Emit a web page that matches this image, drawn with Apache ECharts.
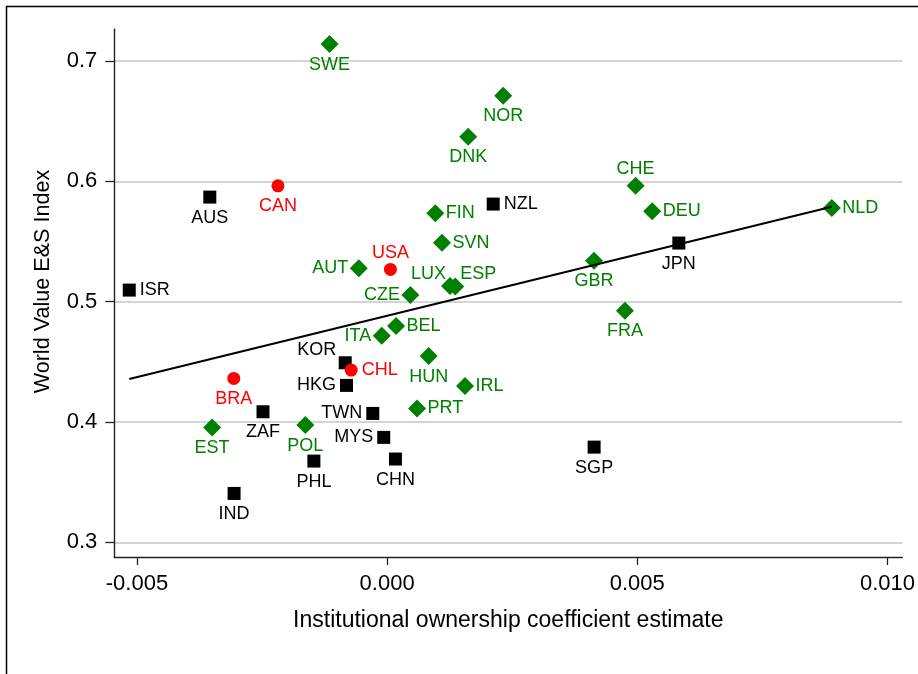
<!DOCTYPE html>
<html>
<head>
<meta charset="utf-8">
<script src="https://cdn.jsdelivr.net/npm/echarts@6/dist/echarts.min.js"></script>
<style>
html,body{margin:0;padding:0;background:#fff;}
#chart{width:918px;height:674px;}
</style>
</head>
<body>
<div id="chart"></div>
<script>
// ---- Data ----
const blackCountries = ['AUS','NZL','ISR','JPN','KOR','HKG','ZAF','TWN','MYS','PHL','CHN','IND','SGP'];
const blackX = [-0.003544, 0.00212, -0.005154, 0.00583, -0.000838, -0.000812, -0.002481, -0.000287, -0.000068, -0.001464, 0.000166, -0.003059, 0.004137];
const blackY = [0.5869, 0.5811, 0.5096, 0.5487, 0.4492, 0.4304, 0.4085, 0.4071, 0.3872, 0.3675, 0.3692, 0.3406, 0.3791];

const redCountries = ['CAN','USA','CHL','BRA'];
const redX = [-0.002182, 0.000066, -0.000718, -0.003065];
const redY = [0.5963, 0.5268, 0.4431, 0.4362];

const greenCountries = ['SWE','NOR','DNK','CHE','DEU','NLD','FIN','SVN','AUT','LUX','ESP','CZE','GBR','FRA','BEL','ITA','HUN','IRL','PRT','EST','POL'];
const greenX = [-0.001151, 0.00232, 0.00162, 0.004966, 0.005297, 0.008887, 0.000963, 0.001097, -0.000566, 0.001256, 0.001362, 0.000465, 0.004135, 0.004753, 0.000179, -0.000108, 0.00083, 0.001556, 0.000598, -0.003498, -0.001635];
const greenY = [0.7141, 0.6712, 0.6371, 0.5963, 0.5751, 0.5778, 0.5734, 0.5490, 0.5277, 0.5130, 0.5125, 0.5055, 0.5340, 0.4924, 0.4797, 0.4717, 0.4548, 0.4298, 0.4113, 0.3955, 0.3974];

const fitX = [-0.005154, 0.008887];
const fitY = [0.4357, 0.5789];

const xTicks = [-0.005, 0, 0.005, 0.010];
const xTickLabels = ['-0.005', '0.000', '0.005', '0.010'];
const yTicks = [0.3, 0.4, 0.5, 0.6, 0.7];
const yTickLabels = ['0.3', '0.4', '0.5', '0.6', '0.7'];

const xTitle = 'Institutional ownership coefficient estimate';
const yTitle = 'World Value E&S Index';

// ---- Label placement (style) ----
const placement = {
  AUS:'b', NZL:'r', ISR:'r', JPN:'b', KOR:'ul', HKG:'l', ZAF:'b', TWN:'l', MYS:'l', PHL:'b', CHN:'b', IND:'b', SGP:'b',
  CAN:'b', USA:'t', CHL:'r', BRA:'b',
  SWE:'b', NOR:'b', DNK:'b', CHE:'t', DEU:'r', NLD:'r', FIN:'r', SVN:'r', AUT:'l', LUX:'lux', ESP:'esp', CZE:'l',
  GBR:'b', FRA:'b', BEL:'r', ITA:'l', HUN:'b', IRL:'r', PRT:'r', EST:'b', POL:'b'
};
const placeStyle = {
  b:  {align:'center', offset:[0, 20.5]},
  t:  {align:'center', offset:[0, -16.5]},
  r:  {align:'left',   offset:[10.5, 0]},
  l:  {align:'right',  offset:[-10.5, 0]},
  ul: {align:'right',  offset:[-9, -12.7]},
  lux:{align:'right',  offset:[-4, -11.5]},
  esp:{align:'left',   offset:[5, -12.4]}
};

const FONT = '"Liberation Sans", Arial, Helvetica, sans-serif';

function buildData(names, xs, ys, color) {
  return names.map((n, i) => {
    const p = placeStyle[placement[n]];
    return {
      name: n,
      value: [xs[i], ys[i]],
      label: {
        show: true,
        formatter: n,
        position: 'inside',
        align: p.align,
        verticalAlign: 'middle',
        offset: p.offset,
        color: color,
        opacity: 1,
        fontSize: 18,
        fontFamily: FONT
      }
    };
  });
}

const chart = echarts.init(document.getElementById('chart'), null, {renderer: 'canvas'});

const X_MIN = -0.005453, X_MAX = 0.010297;
const Y_MIN = 0.28778, Y_MAX = 0.72635;

const option = {
  animation: false,
  backgroundColor: '#ffffff',
  grid: {left: 114.3, top: 29.3, right: 14, bottom: 117, containLabel: false},
  xAxis: {
    type: 'value',
    min: X_MIN, max: X_MAX,
    axisLine: {show: true, onZero: false, lineStyle: {color: '#222', width: 1.4}},
    axisTick: {show: true, length: 8, inside: false, customValues: xTicks, lineStyle: {color: '#222', width: 1.3}},
    axisLabel: {
      customValues: xTicks,
      margin: 16,
      fontSize: 22,
      fontFamily: FONT,
      color: '#000',
      formatter: v => {
        const i = xTicks.findIndex(t => Math.abs(t - v) < 1e-9);
        return i >= 0 ? xTickLabels[i] : '';
      }
    },
    splitLine: {show: false},
    name: xTitle,
    nameLocation: 'middle',
    nameGap: 52,
    nameTextStyle: {fontSize: 23, fontFamily: FONT, color: '#000'}
  },
  yAxis: {
    type: 'value',
    min: Y_MIN, max: Y_MAX,
    axisLine: {show: true, onZero: false, lineStyle: {color: '#222', width: 1.4}},
    axisTick: {show: true, length: 9, inside: false, customValues: yTicks, lineStyle: {color: '#222', width: 1.3}},
    axisLabel: {
      customValues: yTicks,
      margin: 17,
      fontSize: 22,
      fontFamily: FONT,
      color: '#000',
      formatter: v => {
        const i = yTicks.findIndex(t => Math.abs(t - v) < 1e-9);
        return i >= 0 ? yTickLabels[i] : '';
      }
    },
    splitLine: {show: false}
  },
  graphic: [
    {
      type: 'rect',
      shape: {x: 6.5, y: 6.5, width: 1000, height: 1000},
      style: {fill: 'none', stroke: '#000', lineWidth: 1.5},
      silent: true, z: 100
    },
    {
      type: 'text',
      x: 43, y: 281.5,
      rotation: Math.PI / 2,
      style: {
        text: yTitle,
        fontSize: 21.6,
        fontFamily: FONT,
        fill: '#000',
        align: 'center',
        verticalAlign: 'middle'
      }
    }
  ],
  series: [
    {
      type: 'line',
      data: [],
      silent: true,
      z: 0,
      markLine: {
        silent: true,
        z: 0,
        symbol: 'none',
        label: {show: false},
        lineStyle: {color: '#d4d4d4', width: 1.8, type: 'solid'},
        data: yTicks.map(v => ({yAxis: v}))
      }
    },
    {
      type: 'scatter',
      symbol: 'rect',
      symbolSize: 13,
      itemStyle: {color: '#000000', opacity: 1},
      data: buildData(blackCountries, blackX, blackY, '#000000'),
      z: 3
    },
    {
      type: 'scatter',
      symbol: 'circle',
      symbolSize: 13,
      itemStyle: {color: '#ff0000', opacity: 1},
      data: buildData(redCountries, redX, redY, '#ff0000'),
      z: 3
    },
    {
      type: 'scatter',
      symbol: 'diamond',
      symbolSize: 18,
      itemStyle: {color: '#008000', opacity: 1},
      data: buildData(greenCountries, greenX, greenY, '#008000'),
      z: 3
    },
    {
      type: 'line',
      data: fitX.map((x, i) => [x, fitY[i]]),
      symbol: 'none',
      lineStyle: {color: '#000', width: 2},
      silent: true,
      z: 5
    }
  ]
};

chart.setOption(option);
</script>
</body>
</html>
